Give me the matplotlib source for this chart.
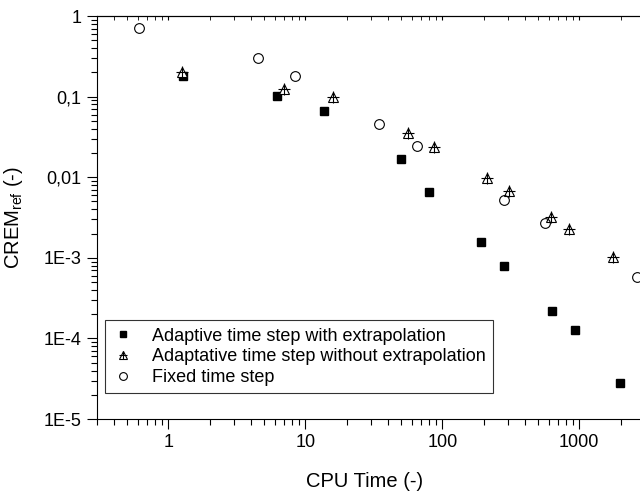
import numpy as np
import matplotlib
matplotlib.use('Agg')
import matplotlib.pyplot as plt
from matplotlib.legend_handler import HandlerTuple

plt.rcParams['font.family'] = ['Liberation Sans', 'DejaVu Sans']
plt.rcParams['mathtext.fontset'] = 'custom'
plt.rcParams['mathtext.rm'] = 'Liberation Sans'
plt.rcParams['mathtext.it'] = 'Liberation Sans:italic'

# adaptive time step with extrapolation
x_ext = [1.28, 6.2, 13.7, 50, 79.6, 192, 281, 629, 935, 1970]
y_ext = [0.181, 0.102, 0.0665, 0.0168, 0.00665, 0.00155, 0.000798, 0.000221, 0.000126, 2.83e-5]
# adaptative time step without extrapolation
x_noext = [1.26, 7.0, 15.8, 55.9, 86.5, 213, 305, 621, 845, 1754]
y_noext = [0.202, 0.125, 0.1, 0.0352, 0.024, 0.00975, 0.00679, 0.00317, 0.00228, 0.00103]
# fixed time step
x_fix = [0.611, 4.52, 8.4, 34.3, 65.0, 284, 565, 2625]
y_fix = [0.71, 0.302, 0.181, 0.0459, 0.0245, 0.00525, 0.00272, 0.000578]

yticks = [1, 0.1, 0.01, 1e-3, 1e-4, 1e-5]
ylabels = ['1', '0,1', '0,01', '1E-3', '1E-4', '1E-5']
xticks = [1, 10, 100, 1000]
xlabels = ['1', '10', '100', '1000']

fig = plt.figure(figsize=(6.4, 4.93), dpi=100)
ax = fig.add_axes([0.151, 0.150, 0.849, 0.8175])

h1, = ax.plot(x_ext, y_ext, 's', color='black', ms=6)
h2a, = ax.plot(x_noext, y_noext, '^', mfc='white', mec='black', mew=0.8, ms=7)
h2b, = ax.plot(x_noext, y_noext, '+', color='black', mew=0.8, ms=8)
h3, = ax.plot(x_fix, y_fix, 'o', mfc='none', mec='black', mew=0.8, ms=7)

ax.set_xscale('log')
ax.set_yscale('log')
ax.set_xlim(0.3, 2773)
ax.set_ylim(1e-5, 1)
ax.set_yticks(yticks)
ax.set_yticklabels(ylabels)
ax.set_xticks(xticks)
ax.set_xticklabels(xlabels)
ax.spines['right'].set_visible(False)
ax.tick_params(which='major', direction='out', length=7, width=0.8, labelsize=13, pad=4)
ax.tick_params(which='minor', direction='out', length=4, width=0.8)
ax.tick_params(axis='y', which='minor', labelleft=False)
ax.tick_params(axis='x', which='minor', labelbottom=False)

top = ax.secondary_xaxis('top')
top.set_xscale('log')
top.set_xticks(xticks)
top.tick_params(which='both', direction='in', length=3, labeltop=False)
top.tick_params(which='minor', labeltop=False)

ax.set_xlabel('CPU Time (-)', fontsize=14.5)
ax.xaxis.set_label_coords(0.494, -0.132)
ax.set_ylabel(r'CREM$_{\mathrm{ref}}$ (-)', fontsize=14.5)
ax.yaxis.set_label_coords(-0.132, 0.5)

leg = ax.legend([h1, (h2a, h2b), h3],
                ['Adaptive time step with extrapolation',
                 'Adaptative time step without extrapolation',
                 'Fixed time step'],
                handler_map={tuple: HandlerTuple(ndivide=1)},
                loc='lower left', bbox_to_anchor=(0.015, 0.0645),
                fontsize=13, frameon=True, fancybox=False, edgecolor='black',
                handlelength=1.2, handletextpad=1.0, borderpad=0.4, labelspacing=0.2,
                markerscale=0.8, borderaxespad=0)
leg.get_frame().set_linewidth(0.8)

fig.savefig('out.png', dpi=100)
